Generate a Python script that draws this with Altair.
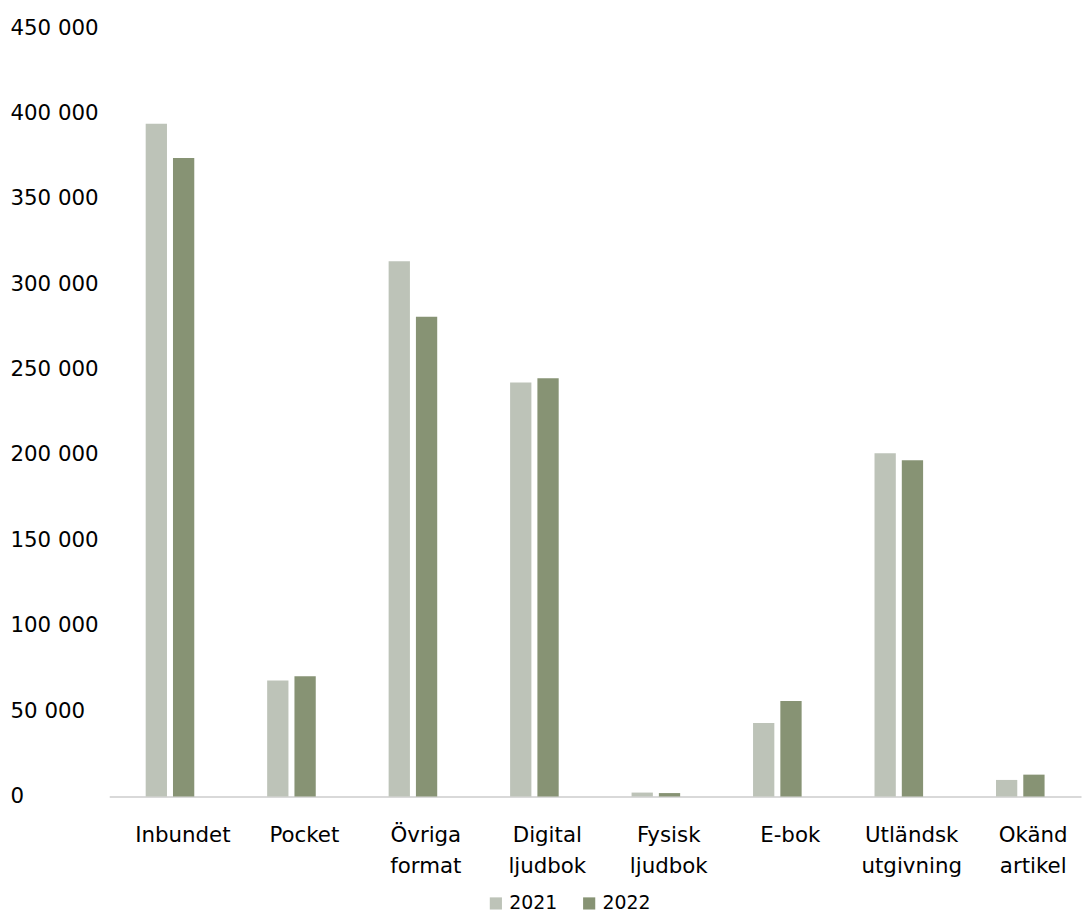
import altair as alt
import pandas as pd

categories = ["Inbundet", "Pocket", "Övriga format", "Digital ljudbok", "Fysisk ljudbok",
              "E-bok", "Utländsk utgivning", "Okänd artikel"]
values_2021 = [394000, 68000, 313500, 242500, 2300, 43000, 201000, 9700]
values_2022 = [374000, 70500, 281000, 245000, 2000, 56000, 197000, 12800]
years = ["2021", "2022"]
colors = ["#BDC3B8", "#879374"]

rows = []
for c, a, b in zip(categories, values_2021, values_2022):
    rows.append({"kategori": c, "år": "2021", "värde": a})
    rows.append({"kategori": c, "år": "2022", "värde": b})
df = pd.DataFrame(rows)

FONT = "DejaVu Sans"

chart = alt.Chart(df).mark_bar().encode(
    x=alt.X("kategori:N", sort=categories, title=None,
            scale=alt.Scale(paddingInner=0.6, paddingOuter=0.3),
            axis=alt.Axis(labelAngle=0, ticks=False, domainColor="#d9d9d9", domainWidth=2,
                          labelExpr="split(datum.label, ' ')", labelFontSize=21.5,
                          labelColor="#000000", labelFont=FONT, labelPadding=39,
                          labelLineHeight=32, labelOffset=13, labelBaseline="middle")),
    xOffset=alt.XOffset("år:N", scale=alt.Scale(paddingInner=0.22)),
    y=alt.Y("värde:Q", title=None,
            scale=alt.Scale(domain=[0, 450000]),
            axis=alt.Axis(values=list(range(0, 450001, 50000)), grid=False, domain=False,
                          ticks=False, labelAlign="left", labelPadding=100,
                          labelFontSize=21.5, labelColor="#000000", labelFont=FONT,
                          labelExpr="replace(format(datum.value, ','), ',', ' ')")),
    color=alt.Color("år:N", scale=alt.Scale(domain=years, range=colors),
                    legend=alt.Legend(title=None, orient="none", direction="horizontal",
                                      legendX=380, legendY=872,
                                      symbolType="square", symbolSize=150, symbolStrokeWidth=0,
                                      labelFontSize=19, labelFont=FONT, labelColor="#000000",
                                      columnPadding=22, labelOffset=4)),
).properties(
    width=979, height=774,
    autosize=alt.AutoSizeParams(type="none"),
    padding={"left": 102, "top": 17, "right": 2, "bottom": 113}
).configure_view(stroke=None)

chart.save("out.html", embed_options={"renderer": "svg", "actions": False})
